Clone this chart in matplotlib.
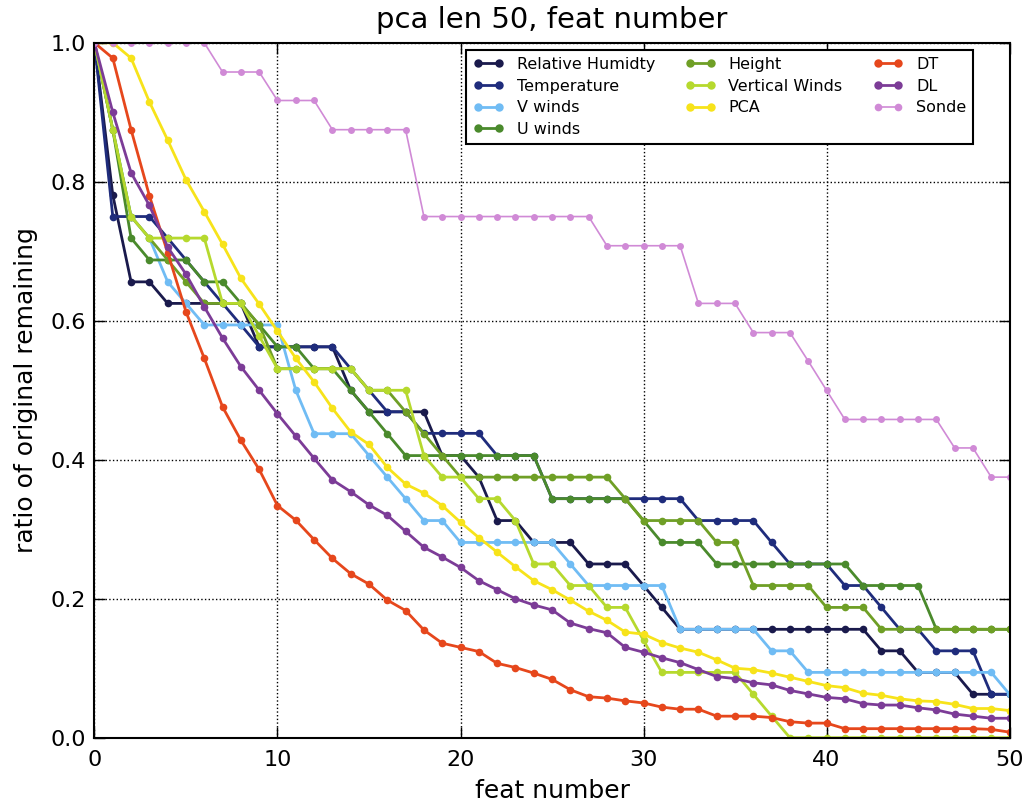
import numpy as np
import matplotlib
matplotlib.use("Agg")
import matplotlib.pyplot as plt

feat = list(range(51))

relative_humidity = [1.0, 0.781, 0.656, 0.656, 0.625, 0.625, 0.625, 0.625, 0.625, 0.5625,
                     0.5625, 0.5625, 0.5625, 0.5625, 0.5, 0.469, 0.469, 0.469, 0.469, 0.406,
                     0.406, 0.375, 0.3125, 0.3125, 0.281, 0.281, 0.281, 0.25, 0.25, 0.25,
                     0.219, 0.1875, 0.156, 0.156, 0.156, 0.156, 0.156, 0.156, 0.156, 0.156,
                     0.156, 0.156, 0.156, 0.125, 0.125, 0.094, 0.094, 0.094, 0.0625, 0.0625,
                     0.0625]
temperature = [1.0, 0.75, 0.75, 0.75, 0.719, 0.6875, 0.656, 0.625, 0.594, 0.5625,
               0.5625, 0.5625, 0.5625, 0.5625, 0.531, 0.5, 0.469, 0.469, 0.438, 0.438,
               0.438, 0.438, 0.406, 0.406, 0.406, 0.344, 0.344, 0.344, 0.344, 0.344,
               0.344, 0.344, 0.344, 0.3125, 0.3125, 0.3125, 0.3125, 0.281, 0.25, 0.25,
               0.25, 0.219, 0.219, 0.1875, 0.156, 0.156, 0.125, 0.125, 0.125, 0.0625,
               0.0625]
v_winds = [1.0, 0.875, 0.75, 0.719, 0.656, 0.625, 0.594, 0.594, 0.594, 0.594,
           0.594, 0.5, 0.4375, 0.4375, 0.4375, 0.406, 0.375, 0.344, 0.3125, 0.3125,
           0.281, 0.281, 0.281, 0.281, 0.281, 0.281, 0.25, 0.219, 0.219, 0.219,
           0.219, 0.219, 0.156, 0.156, 0.156, 0.156, 0.156, 0.125, 0.125, 0.094,
           0.094, 0.094, 0.094, 0.094, 0.094, 0.094, 0.094, 0.094, 0.094, 0.094,
           0.0625]
u_winds = [1.0, 0.875, 0.719, 0.6875, 0.6875, 0.6875, 0.656, 0.656, 0.625, 0.594,
           0.5625, 0.5625, 0.531, 0.531, 0.5, 0.469, 0.4375, 0.406, 0.406, 0.406,
           0.406, 0.406, 0.406, 0.406, 0.406, 0.344, 0.344, 0.344, 0.344, 0.344,
           0.3125, 0.281, 0.281, 0.281, 0.25, 0.25, 0.25, 0.25, 0.25, 0.25,
           0.25, 0.25, 0.219, 0.219, 0.219, 0.219, 0.156, 0.156, 0.156, 0.156,
           0.156]
height = [1.0, 0.875, 0.75, 0.719, 0.6875, 0.656, 0.625, 0.625, 0.625, 0.594,
          0.531, 0.531, 0.531, 0.531, 0.531, 0.5, 0.5, 0.469, 0.4375, 0.406,
          0.375, 0.375, 0.375, 0.375, 0.375, 0.375, 0.375, 0.375, 0.375, 0.344,
          0.3125, 0.3125, 0.3125, 0.3125, 0.281, 0.281, 0.219, 0.219, 0.219, 0.219,
          0.1875, 0.1875, 0.1875, 0.156, 0.156, 0.156, 0.156, 0.156, 0.156, 0.156,
          0.156]
vertical_winds = [1.0, 0.875, 0.75, 0.719, 0.719, 0.719, 0.719, 0.625, 0.625, 0.578,
                  0.531, 0.531, 0.531, 0.531, 0.531, 0.5, 0.5, 0.5, 0.406, 0.375,
                  0.375, 0.344, 0.344, 0.3125, 0.25, 0.25, 0.219, 0.219, 0.1875, 0.1875,
                  0.14, 0.094, 0.094, 0.094, 0.094, 0.094, 0.0625, 0.031, 0.0, 0.0,
                  0.0, 0.0, 0.0, 0.0, 0.0, 0.0, 0.0, 0.0, 0.0, 0.0,
                  0.0]
pca = [1.0, 1.0, 0.978, 0.915, 0.86, 0.803, 0.757, 0.71, 0.661, 0.624,
       0.585, 0.546, 0.512, 0.474, 0.44, 0.422, 0.389, 0.365, 0.352, 0.334,
       0.31, 0.288, 0.267, 0.246, 0.226, 0.213, 0.198, 0.182, 0.169, 0.152,
       0.149, 0.137, 0.129, 0.123, 0.112, 0.1, 0.098, 0.093, 0.087, 0.081,
       0.075, 0.072, 0.064, 0.061, 0.056, 0.053, 0.052, 0.048, 0.042, 0.042,
       0.039]
dt = [1.0, 0.978, 0.875, 0.78, 0.698, 0.613, 0.546, 0.476, 0.428, 0.386,
      0.334, 0.313, 0.285, 0.258, 0.236, 0.221, 0.198, 0.183, 0.155, 0.136,
      0.130, 0.124, 0.107, 0.101, 0.093, 0.084, 0.069, 0.059, 0.057, 0.053,
      0.050, 0.044, 0.041, 0.041, 0.031, 0.031, 0.031, 0.029, 0.023, 0.021,
      0.021, 0.013, 0.013, 0.013, 0.013, 0.013, 0.013, 0.013, 0.013, 0.012,
      0.008]
dl = [1.0, 0.9, 0.813, 0.766, 0.706, 0.667, 0.62, 0.575, 0.534, 0.5,
      0.466, 0.434, 0.402, 0.371, 0.354, 0.335, 0.32, 0.297, 0.274, 0.26,
      0.245, 0.226, 0.213, 0.2, 0.191, 0.184, 0.165, 0.157, 0.151, 0.13,
      0.123, 0.115, 0.108, 0.098, 0.088, 0.085, 0.079, 0.076, 0.068, 0.063,
      0.058, 0.056, 0.049, 0.047, 0.047, 0.043, 0.040, 0.034, 0.031, 0.028,
      0.028]
sonde = [1.0, 1.0, 1.0, 1.0, 1.0, 1.0, 1.0, 0.958, 0.958, 0.958,
         0.917, 0.917, 0.917, 0.875, 0.875, 0.875, 0.875, 0.875, 0.75, 0.75,
         0.75, 0.75, 0.75, 0.75, 0.75, 0.75, 0.75, 0.75, 0.708, 0.708,
         0.708, 0.708, 0.708, 0.625, 0.625, 0.625, 0.583, 0.583, 0.583, 0.542,
         0.5, 0.458, 0.458, 0.458, 0.458, 0.458, 0.458, 0.417, 0.417, 0.375,
         0.375]

series = [
    ("Relative Humidty", relative_humidity, "#1a1a4c", 2.0),
    ("Temperature", temperature, "#1f2c7c", 2.0),
    ("V winds", v_winds, "#70bcf4", 2.0),
    ("U winds", u_winds, "#4a8a2c", 2.0),
    ("Height", height, "#6f9f26", 2.0),
    ("Vertical Winds", vertical_winds, "#b6d92e", 2.0),
    ("PCA", pca, "#f7e31a", 2.0),
    ("DT", dt, "#e6471c", 2.0),
    ("DL", dl, "#7c3c97", 2.0),
    ("Sonde", sonde, "#d08ad6", 1.2),
]

fig = plt.figure(figsize=(10.27, 8.08), dpi=100, facecolor="white")
ax = fig.add_axes([0.092, 0.087, 0.891, 0.86])

for name, vals, color, lw in series:
    ax.plot(feat, vals, color=color, linewidth=lw, marker="o",
            markersize=5.5 if lw > 1.5 else 5, markeredgewidth=0,
            label=name)

ax.set_xlim(0, 50)
ax.set_ylim(0, 1.0)
ax.set_xticks(range(0, 51, 10))
ax.set_yticks(np.arange(0, 1.01, 0.2))
ax.set_yticklabels([f"{v:.1f}" for v in np.arange(0, 1.01, 0.2)])
ax.grid(True, linestyle=":", color="black", linewidth=1.0)
ax.tick_params(direction="in", length=8, width=1, labelsize=16,
               top=True, right=True, pad=6)
ax.tick_params(axis="x", pad=9)
for sp in ax.spines.values():
    sp.set_linewidth(1.5)

ax.set_xlabel("feat number", fontsize=18, labelpad=6)
ax.set_ylabel("ratio of original remaining", fontsize=18, labelpad=9)
ax.set_title("pca len 50, feat number", fontsize=21, pad=11)

leg = ax.legend(loc="upper right", bbox_to_anchor=(0.9606, 0.99),
                borderaxespad=0, ncol=3, fontsize=11.5, numpoints=2,
                fancybox=False, framealpha=1, edgecolor="black",
                columnspacing=1.9, handlelength=1.9, handletextpad=0.8,
                labelspacing=0.42, borderpad=0.45, markerscale=1.1)
leg.get_frame().set_linewidth(1.5)

fig.savefig("out.png", dpi=100, facecolor="white")
